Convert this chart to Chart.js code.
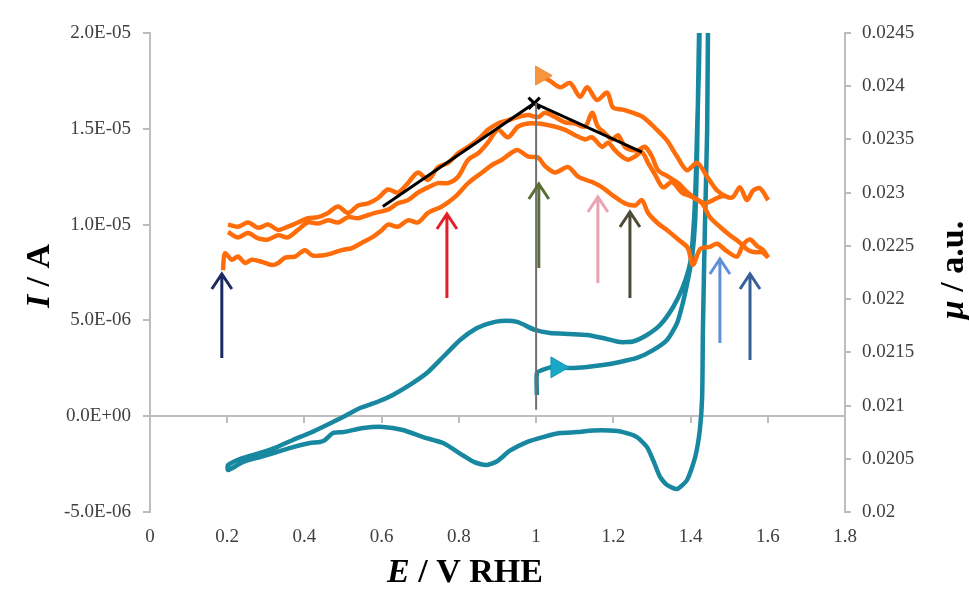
<!DOCTYPE html>
<html>
<head>
<meta charset="utf-8">
<script src="https://cdn.jsdelivr.net/npm/chart.js@4.4.1/dist/chart.umd.min.js"></script>
<style>
  html, body { margin: 0; padding: 0; background: #fff; }
</style>
</head>
<body>
<canvas id="myChart" width="969" height="598"></canvas>
<script>
// tick values for the three axes
const eTicks = [0, 0.2, 0.4, 0.6, 0.8, 1.0, 1.2, 1.4, 1.6, 1.8];
const iTicks = [-5e-6, 0, 5e-6, 1e-5, 1.5e-5, 2e-5];
const muTicks = [0.02, 0.0205, 0.021, 0.0215, 0.022, 0.0225, 0.023, 0.0235, 0.024, 0.0245];

// cyclic voltammogram: E (V RHE) and current in microampere
const cvE = [1.002, 1.002, 1.015, 1.044, 1.088, 1.132, 1.173, 1.217, 1.261, 1.303, 1.339, 1.365, 1.380, 1.393, 1.404, 1.412, 1.417, 1.422, 1.426,
  1.447, 1.445, 1.443, 1.437, 1.432, 1.430, 1.424, 1.412, 1.391, 1.365, 1.339, 1.321, 1.303, 1.287, 1.261, 1.225, 1.191, 1.147, 1.106, 1.062, 1.018, 0.976, 0.932, 0.899, 0.870, 0.840, 0.811, 0.759, 0.707, 0.655, 0.603, 0.552, 0.500, 0.474, 0.453, 0.440, 0.414, 0.370, 0.329, 0.285, 0.241, 0.202,
  0.202, 0.241, 0.285, 0.329, 0.370, 0.414, 0.458, 0.500, 0.544, 0.588, 0.629, 0.673, 0.717, 0.759, 0.803, 0.847, 0.881, 0.909, 0.951, 0.997, 1.036, 1.088, 1.132, 1.173, 1.217, 1.251, 1.287, 1.321, 1.355, 1.380, 1.399, 1.406, 1.412, 1.417, 1.422, 1.425];
const cvMicroAmp = [1.11, 2.25, 2.41, 2.57, 2.52, 2.57, 2.67, 2.83, 3.04, 3.45, 3.98, 4.86, 5.91, 7.11, 8.31, 10.24, 13.89, 20.0, 23.0,
  23.0, 20.0, 14.94, 9.72, 4.50, 1.00, -0.72, -2.13, -3.33, -3.80, -3.59, -3.17, -2.29, -1.61, -1.09, -0.83, -0.75, -0.75, -0.83, -0.88, -1.09, -1.35, -1.80, -2.35, -2.55, -2.40, -2.05, -1.40, -1.09, -0.72, -0.56, -0.62, -0.83, -0.88, -1.25, -1.35, -1.40, -1.61, -1.87, -2.13, -2.39, -2.81,
  -2.55, -2.18, -1.92, -1.61, -1.24, -0.88, -0.46, -0.04, 0.43, 0.74, 1.11, 1.63, 2.25, 3.09, 3.98, 4.60, 4.86, 4.97, 4.92, 4.50, 4.34, 4.29, 4.24, 4.08, 3.87, 3.90, 4.24, 4.76, 5.70, 6.74, 8.00, 9.35, 11.44, 14.94, 18.43, 23.0];
const cvStartE = [1.054];
const cvStartMicroAmp = [2.55];

// XAS intensity mu (a.u.), right axis
const muTopE = [1.013, 1.036, 1.062, 1.088, 1.114, 1.132, 1.158, 1.184, 1.199, 1.225, 1.251, 1.277, 1.313, 1.339, 1.365, 1.391, 1.417, 1.443, 1.469, 1.494, 1.510, 1.528, 1.546, 1.562, 1.580, 1.601];
const muTopV = [0.02410, 0.02405, 0.02399, 0.02403, 0.02390, 0.02399, 0.02387, 0.02394, 0.02380, 0.02378, 0.02375, 0.02371, 0.02359, 0.02349, 0.02334, 0.02321, 0.02328, 0.02315, 0.02302, 0.02296, 0.02296, 0.02305, 0.02293, 0.02302, 0.02304, 0.02293];

const muBandAE = [0.202, 0.228, 0.254, 0.280, 0.306, 0.332, 0.357, 0.383, 0.409, 0.435, 0.461, 0.487, 0.513, 0.539, 0.565, 0.591, 0.616, 0.642, 0.668, 0.694, 0.720, 0.746, 0.772, 0.798, 0.824, 0.850, 0.875, 0.901, 0.927, 0.953, 0.979, 1.005, 1.023, 1.049, 1.075, 1.101, 1.127, 1.145, 1.160, 1.178, 1.197, 1.212, 1.230, 1.248, 1.264, 1.282, 1.300, 1.316, 1.342, 1.368, 1.393, 1.419, 1.437, 1.458, 1.476, 1.494];
const muBandAV = [0.02270, 0.02268, 0.02272, 0.02267, 0.02270, 0.02265, 0.02268, 0.02272, 0.02276, 0.02277, 0.02281, 0.02287, 0.02281, 0.02288, 0.02290, 0.02295, 0.02303, 0.02300, 0.02309, 0.02319, 0.02312, 0.02324, 0.02328, 0.02337, 0.02343, 0.02350, 0.02359, 0.02365, 0.02368, 0.02371, 0.02373, 0.02371, 0.02375, 0.02371, 0.02366, 0.02365, 0.02362, 0.02375, 0.02362, 0.02356, 0.02350, 0.02354, 0.02343, 0.02340, 0.02340, 0.02343, 0.02334, 0.02321, 0.02315, 0.02309, 0.02300, 0.02293, 0.02290, 0.02293, 0.02296, 0.02297];

const muBandBE = [0.202, 0.228, 0.254, 0.280, 0.306, 0.332, 0.357, 0.383, 0.409, 0.435, 0.461, 0.487, 0.513, 0.539, 0.565, 0.583, 0.616, 0.642, 0.668, 0.694, 0.720, 0.746, 0.772, 0.798, 0.824, 0.850, 0.875, 0.901, 0.927, 0.953, 0.979, 1.005, 1.023, 1.049, 1.075, 1.101, 1.127, 1.145, 1.171, 1.186, 1.204, 1.222, 1.238, 1.256, 1.274, 1.290, 1.308, 1.329, 1.352, 1.378, 1.404, 1.430, 1.450, 1.476, 1.502, 1.528, 1.549, 1.567, 1.585, 1.601];
const muBandBV = [0.02263, 0.02258, 0.02262, 0.02257, 0.02256, 0.02260, 0.02258, 0.02265, 0.02272, 0.02271, 0.02274, 0.02272, 0.02277, 0.02276, 0.02279, 0.02281, 0.02284, 0.02290, 0.02293, 0.02300, 0.02305, 0.02309, 0.02309, 0.02315, 0.02331, 0.02337, 0.02347, 0.02359, 0.02352, 0.02362, 0.02365, 0.02365, 0.02364, 0.02362, 0.02359, 0.02354, 0.02350, 0.02352, 0.02343, 0.02347, 0.02340, 0.02334, 0.02331, 0.02334, 0.02338, 0.02328, 0.02317, 0.02305, 0.02310, 0.02300, 0.02296, 0.02290, 0.02277, 0.02268, 0.02260, 0.02253, 0.02246, 0.02244, 0.02244, 0.02239];

const muLowE = [0.189, 0.194, 0.212, 0.228, 0.246, 0.264, 0.290, 0.316, 0.332, 0.350, 0.376, 0.401, 0.420, 0.445, 0.471, 0.497, 0.523, 0.549, 0.575, 0.601, 0.616, 0.642, 0.668, 0.694, 0.720, 0.756, 0.790, 0.824, 0.860, 0.886, 0.912, 0.938, 0.953, 0.979, 1.005, 1.023, 1.049, 1.083, 1.109, 1.145, 1.171, 1.204, 1.230, 1.256, 1.274, 1.290, 1.316, 1.342, 1.368, 1.393, 1.406, 1.425, 1.450, 1.469, 1.494, 1.520, 1.536, 1.554, 1.572, 1.588, 1.601];
const muLowV = [0.02227, 0.02243, 0.02237, 0.02240, 0.02234, 0.02237, 0.02235, 0.02232, 0.02234, 0.02239, 0.02240, 0.02246, 0.02241, 0.02241, 0.02243, 0.02246, 0.02248, 0.02253, 0.02258, 0.02265, 0.02270, 0.02268, 0.02274, 0.02272, 0.02281, 0.02287, 0.02296, 0.02309, 0.02319, 0.02326, 0.02331, 0.02338, 0.02340, 0.02334, 0.02333, 0.02325, 0.02319, 0.02324, 0.02315, 0.02310, 0.02305, 0.02296, 0.02290, 0.02288, 0.02293, 0.02281, 0.02271, 0.02264, 0.02256, 0.02248, 0.02232, 0.02247, 0.02249, 0.02252, 0.02245, 0.02240, 0.02251, 0.02256, 0.02250, 0.02246, 0.02239];

// black trend lines meeting at the maximum, and the grey guide at 1.0 V
const trendE = [0.603, 0.995, 1.274];
const trendV = [0.02287, 0.02384, 0.02338];
const guideE = [1.0, 1.0];
const guideV = [0.02384, 0.02096];

// vertical arrows (right axis units)
const arrowE = [0.186, 0.769, 1.007, 1.160, 1.243, 1.476, 1.554];
const arrowTip = [0.022255, 0.022818, 0.02310, 0.022978, 0.022837, 0.022396, 0.022255];
const arrowBase = [0.021447, 0.02201, 0.022292, 0.022151, 0.02201, 0.021588, 0.021428];
const arrowColors = ['#1b2a63', '#e3202a', '#5b6e36', '#e9a4b3', '#4d4a37', '#5f90d8', '#35609a'];

const ORANGE = '#ff6d0a';
const TEAL = '#1887a0';
const AXIS = '#bdbdbd';
const FONT = 'Liberation Serif';

function pts(xs, ys, k) {
    k = k || 1;
    return xs.map((x, i) => ({ x: x, y: ys[i] * k }));
}

function sciLabel(v) {
    var parts = Number(v).toExponential(1).split('e');
    var n = parseInt(parts[1], 10);
    return parts[0] + 'E' + (n < 0 ? '-' : '+') + String(Math.abs(n)).padStart(2, '0');
}

function setTicks(list) {
    return function(scale) { scale.ticks = list.map(v => ({ value: v })); };
}

function drawMixed(ctx, parts, cx, cy, angle) {
    ctx.save();
    ctx.translate(cx, cy);
    ctx.rotate(angle);
    var total = 0;
    parts.forEach(p => { ctx.font = p.font; p.w = ctx.measureText(p.text).width; total += p.w; });
    var xx = -total / 2;
    ctx.textBaseline = 'middle';
    ctx.fillStyle = '#000';
    parts.forEach(p => { ctx.font = p.font; ctx.fillText(p.text, xx, 0); xx += p.w; });
    ctx.restore();
}

const overlay = {
    id: 'overlay',
    afterDatasetsDraw(chart) {
        const ctx = chart.ctx;
        const x = chart.scales.x, y2 = chart.scales.y2;
        ctx.save();
        ctx.lineWidth = 3;
        ctx.lineJoin = 'miter';
        arrowE.forEach((e, i) => {
            var px = x.getPixelForValue(e);
            var top = y2.getPixelForValue(arrowTip[i]);
            var bot = y2.getPixelForValue(arrowBase[i]);
            ctx.strokeStyle = arrowColors[i];
            ctx.beginPath();
            ctx.moveTo(px, bot);
            ctx.lineTo(px, top + 2);
            ctx.moveTo(px - 10, top + 17);
            ctx.lineTo(px, top + 2);
            ctx.lineTo(px + 10, top + 17);
            ctx.stroke();
        });
        ctx.restore();
    },
    afterDraw(chart) {
        const ctx = chart.ctx;
        const bi = 'italic bold 34px "' + FONT + '"';
        const b = 'bold 34px "' + FONT + '"';
        drawMixed(ctx, [{ text: 'E', font: bi }, { text: ' / V RHE', font: b }], 465, 573, 0);
        drawMixed(ctx, [{ text: 'I', font: bi }, { text: ' / A', font: b }], 40, 276, -Math.PI / 2);
        drawMixed(ctx, [{ text: '\u03bc', font: bi }, { text: ' / a.u.', font: b }], 954, 270, -Math.PI / 2);
    }
};

const muLine = {
    type: 'scatter', showLine: true, yAxisID: 'y2',
    borderColor: ORANGE, borderWidth: 4.5, tension: 0.3, pointRadius: 0, order: 4
};

var ctx = document.getElementById('myChart').getContext('2d');
var myChart = new Chart(ctx, {
    type: 'scatter',
    data: {
        datasets: [
            { // CV
                data: pts(cvE, cvMicroAmp, 1e-6), yAxisID: 'y', showLine: true,
                borderColor: TEAL, borderWidth: 4.5, tension: 0.2, pointRadius: 0, clip: 0, order: 6
            },
            { // CV start arrow head
                data: pts(cvStartE, cvStartMicroAmp, 1e-6), yAxisID: 'y', showLine: false,
                pointStyle: 'triangle', rotation: 90, pointRadius: 12,
                backgroundColor: '#19a7c8', borderColor: '#1597b6', borderWidth: 1, order: 1
            },
            Object.assign({ data: pts(muLowE, muLowV) }, muLine),
            Object.assign({ data: pts(muBandBE, muBandBV) }, muLine),
            Object.assign({ data: pts(muBandAE, muBandAV) }, muLine),
            Object.assign({}, muLine, {
                data: pts(muTopE, muTopV),
                pointStyle: 'triangle', rotation: 90,
                pointRadius: c => c.dataIndex === 0 ? 11 : 0,
                pointBackgroundColor: '#f7953f', pointBorderColor: '#ef8a3a', pointBorderWidth: 1
            }),
            { // trend lines
                data: pts(trendE, trendV), yAxisID: 'y2', showLine: true,
                borderColor: '#000', borderWidth: 3, tension: 0,
                pointStyle: 'crossRot', pointRadius: c => c.dataIndex === 1 ? 8 : 0,
                pointBorderColor: '#000', pointBorderWidth: 3, order: 3
            },
            { // guide at 1.0 V
                data: pts(guideE, guideV), yAxisID: 'y2', showLine: true,
                borderColor: '#707070', borderWidth: 2, pointRadius: 0, order: 2
            }
        ]
    },
    options: {
        responsive: false,
        animation: false,
        layout: { padding: { top: 33, left: 0, right: 0, bottom: 0 } },
        plugins: { legend: { display: false }, tooltip: { enabled: false } },
        scales: {
            x: {
                type: 'linear', position: 'bottom', min: 0, max: 1.8,
                afterBuildTicks: setTicks(eTicks),
                afterFit: s => { s.height = 86; },
                border: { display: false },
                grid: { display: false, drawTicks: false },
                ticks: {
                    padding: 14, color: '#404040', font: { family: FONT, size: 19 },
                    callback: v => String(Number(v.toFixed(1)))
                }
            },
            x2: { // axis line drawn through I = 0
                type: 'linear', axis: 'x', position: { y: 0 }, min: 0, max: 1.8,
                afterBuildTicks: setTicks(eTicks),
                border: { color: AXIS, width: 2 },
                grid: { drawOnChartArea: false, color: AXIS, tickLength: 6, lineWidth: 2 },
                ticks: { display: false }
            },
            y: {
                type: 'linear', position: 'left', min: -5e-6, max: 2e-5,
                afterBuildTicks: setTicks(iTicks),
                afterFit: s => { s.width = 150; },
                border: { color: AXIS, width: 2 },
                grid: { drawOnChartArea: false, color: AXIS, tickLength: 7, lineWidth: 2 },
                ticks: {
                    padding: 12, color: '#404040', font: { family: FONT, size: 19 },
                    callback: v => sciLabel(v)
                }
            },
            y2: {
                type: 'linear', position: 'right', min: 0.02, max: 0.0245,
                afterBuildTicks: setTicks(muTicks),
                afterFit: s => { s.width = 124; },
                border: { color: AXIS, width: 2 },
                grid: { drawOnChartArea: false, color: AXIS, tickLength: 6, lineWidth: 2 },
                ticks: {
                    padding: 11, color: '#404040', font: { family: FONT, size: 19 },
                    callback: v => String(Number(v.toFixed(4)))
                }
            }
        }
    },
    plugins: [overlay]
});
</script>
</body>
</html>
